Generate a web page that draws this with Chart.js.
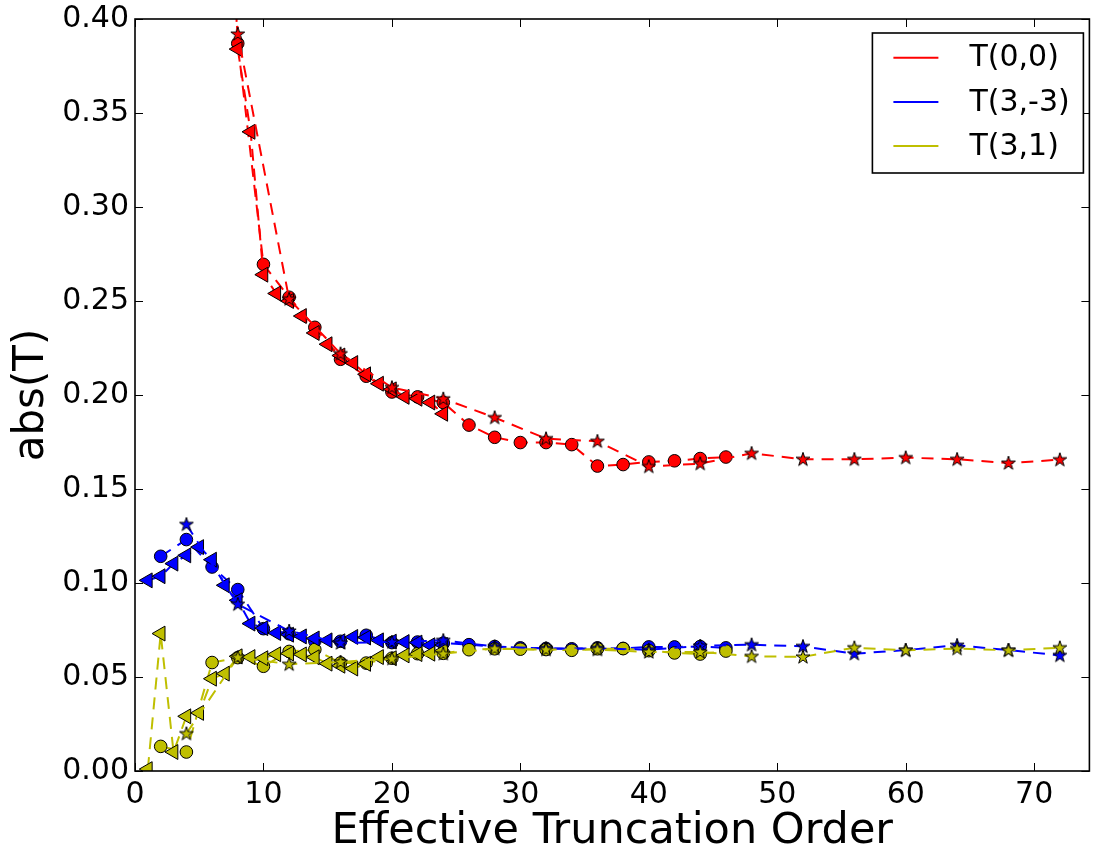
<!DOCTYPE html>
<html><head><meta charset="utf-8">
<script src="https://cdn.jsdelivr.net/npm/chart.js@4.4.1/dist/chart.umd.min.js"></script>
<style>html,body{margin:0;padding:0;background:#fff;overflow:hidden;width:1096px;height:856px;}canvas{display:block;}</style>
</head><body>
<canvas id="c" width="1099" height="856"></canvas>
<script>
// ---- data ----
const seriesLabels = ['T(0,0)', 'T(3,-3)', 'T(3,1)'];
const seriesColors = ['#ff0000', '#0000ff', '#bfbf00'];
const xTicks = [0, 10, 20, 30, 40, 50, 60, 70];
const yTicks = [0.00, 0.05, 0.10, 0.15, 0.20, 0.25, 0.30, 0.35, 0.40];

const xCircles = [2,4,6,8,10,12,14,16,18,20,22,24,26,28,30,32,34,36,38,40,42,44,46];
const xTriangles = [1,2,3,4,5,6,7,8,9,10,11,12,13,14,15,16,17,18,19,20,21,22,23,24];
const xStars = [4,8,12,16,20,24,28,32,36,40,44,48,52,56,60,64,68,72];

const redCircles = [1.8,1.2,0.75,0.387,0.2695,0.252,0.236,0.219,0.210,0.2016,0.199,0.196,0.184,0.1775,0.1747,0.1747,0.1736,0.1622,0.163,0.1644,0.165,0.1662,0.167];
const blueCircles = [0.1142,0.1231,0.1085,0.0965,0.0757,0.0730,0.0691,0.0690,0.0722,0.0683,0.0686,0.0680,0.0672,0.0662,0.0655,0.0652,0.0650,0.0655,0.0652,0.0660,0.0660,0.0662,0.0655];
const yellowCircles = [0.0131,0.0101,0.0577,0.0603,0.0557,0.0636,0.0646,0.0575,0.0574,0.0600,0.0624,0.0626,0.0645,0.0650,0.0648,0.0646,0.0642,0.0650,0.0651,0.0640,0.0628,0.0622,0.0638];

const redTriangles = [2.5,2.0,1.6,1.3,1.0,0.75,0.55,0.384,0.340,0.264,0.254,0.250,0.242,0.233,0.227,0.221,0.217,0.211,0.206,0.203,0.199,0.198,0.196,0.190];
const blueTriangles = [0.1014,0.1036,0.1103,0.1147,0.1191,0.1124,0.0988,0.0908,0.0784,0.0760,0.0734,0.0725,0.0716,0.0705,0.0695,0.0690,0.0713,0.0710,0.0695,0.0688,0.0686,0.0683,0.0669,0.0670];
const yellowTriangles = [0.001,0.0731,0.0101,0.0291,0.0309,0.0491,0.0518,0.0610,0.0606,0.0600,0.0621,0.0625,0.0620,0.0605,0.0571,0.0560,0.0545,0.0570,0.0606,0.0600,0.0615,0.0622,0.0624,0.0640];

const redStars = [1.3,0.392,0.251,0.222,0.204,0.198,0.188,0.1768,0.1754,0.162,0.1635,0.169,0.1658,0.1658,0.1667,0.1658,0.1638,0.1656];
const blueStars = [0.1312,0.0887,0.0745,0.0681,0.0686,0.0695,0.0662,0.0652,0.0652,0.0645,0.0665,0.0672,0.0663,0.0624,0.0643,0.0669,0.0643,0.0615];
const yellowStars = [0.0199,0.0605,0.0568,0.0580,0.0598,0.0624,0.0651,0.0646,0.0646,0.0633,0.0633,0.0610,0.0607,0.0656,0.0642,0.0651,0.0642,0.0656];

// ---- styling helpers ----
const FONT = '"DejaVu Sans", sans-serif';
function starImage(color) {
  const c = document.createElement('canvas');
  c.width = 18; c.height = 18;
  const g = c.getContext('2d');
  const R = 7.3, r = R * 0.382, cx = 9, cy = 9.3;
  g.beginPath();
  for (let i = 0; i < 10; i++) {
    const a = -Math.PI / 2 + i * Math.PI / 5;
    const rr = i % 2 === 0 ? R : r;
    g.lineTo(cx + rr * Math.cos(a), cy + rr * Math.sin(a));
  }
  g.closePath();
  g.fillStyle = color; g.fill();
  g.lineWidth = 1; g.strokeStyle = '#000'; g.stroke();
  return c;
}

function makeSet(xs, ys, ci, kind, drawIdx) {
  const color = seriesColors[ci];
  const ds = {
    label: seriesLabels[ci],
    data: xs.map((x, i) => ({x: x, y: ys[i]})),
    borderColor: color,
    backgroundColor: color,
    borderWidth: 2,
    borderDash: [12, 8],
    tension: 0,
    fill: false,
    pointBackgroundColor: color,
    pointBorderColor: '#000',
    pointBorderWidth: 1,
    order: 100 - drawIdx
  };
  if (kind === 'circle') { ds.pointStyle = 'circle'; ds.pointRadius = 6.3; }
  else if (kind === 'triangle') { ds.pointStyle = 'triangle'; ds.pointRadius = 8.6; ds.pointRotation = -90; }
  else { ds.pointStyle = starImage(color); ds.pointRadius = 7; }
  return ds;
}

const datasets = [
  makeSet(xCircles, redCircles, 0, 'circle', 0),
  makeSet(xCircles, blueCircles, 1, 'circle', 1),
  makeSet(xCircles, yellowCircles, 2, 'circle', 2),
  makeSet(xTriangles, redTriangles, 0, 'triangle', 3),
  makeSet(xTriangles, blueTriangles, 1, 'triangle', 4),
  makeSet(xTriangles, yellowTriangles, 2, 'triangle', 5),
  makeSet(xStars, redStars, 0, 'star', 6),
  makeSet(xStars, blueStars, 1, 'star', 7),
  makeSet(xStars, yellowStars, 2, 'star', 8)
];

const framePlugin = {
  id: 'frame',
  afterDatasetsDraw(chart) {
    const {ctx, chartArea: a, scales: {x, y}} = chart;
    ctx.save();
    ctx.strokeStyle = '#000';
    ctx.lineWidth = 1;
    const seg = (x1, y1, x2, y2) => { ctx.beginPath(); ctx.moveTo(x1, y1); ctx.lineTo(x2, y2); ctx.stroke(); };
    xTicks.forEach(v => {
      const p = Math.round(x.getPixelForValue(v)) + 0.5;
      seg(p, a.bottom, p, a.bottom - 8);
      seg(p, a.top, p, a.top + 8);
    });
    yTicks.forEach(v => {
      const p = Math.round(y.getPixelForValue(v)) + 0.5;
      seg(a.left, p, a.left + 8, p);
      seg(a.right, p, a.right - 8, p);
    });
    ctx.lineWidth = 1.6;
    ctx.strokeRect(a.left, a.top, a.right - a.left, a.bottom - a.top);
    ctx.restore();
  },
  afterDraw(chart) {
    const {ctx, chartArea: a} = chart;
    const bx = a.right - 217, by = a.top + 14, bw = 211, bh = 140;
    ctx.save();
    ctx.fillStyle = '#fff';
    ctx.fillRect(bx, by, bw, bh);
    ctx.lineWidth = 1.6;
    ctx.strokeStyle = '#000';
    ctx.strokeRect(bx, by, bw, bh);
    ctx.font = '30px ' + FONT;
    ctx.textBaseline = 'middle';
    ctx.textAlign = 'left';
    seriesLabels.forEach((lab, i) => {
      const ly = by + 24.7 + i * 44.2;
      ctx.strokeStyle = seriesColors[i];
      ctx.lineWidth = 2;
      ctx.beginPath(); ctx.moveTo(bx + 21, ly); ctx.lineTo(bx + 66, ly); ctx.stroke();
      ctx.fillStyle = '#000';
      ctx.fillText(lab, bx + 97, ly + 1);
    });
    ctx.restore();
  }
};

new Chart(document.getElementById('c'), {
  type: 'line',
  data: {datasets: datasets},
  options: {
    responsive: false,
    animation: false,
    events: [],
    layout: {padding: {top: 19, right: 0, left: 0, bottom: 0}},
    plugins: {legend: {display: false}, tooltip: {enabled: false}},
    scales: {
      x: {
        type: 'linear', min: 0, max: 74.3,
        afterBuildTicks: s => { s.ticks = xTicks.map(v => ({value: v})); },
        afterFit: s => { s.height = 85; s.paddingLeft = 0; s.paddingRight = 0; },
        grid: {display: false, drawTicks: false},
        border: {display: false},
        ticks: {color: '#000', font: {family: FONT, size: 30}, padding: 6, maxRotation: 0,
                callback: v => String(v)},
        title: {display: true, text: 'Effective Truncation Order', color: '#000',
                font: {family: FONT, size: 43}, padding: {top: 0, bottom: -2}}
      },
      y: {
        type: 'linear', min: 0, max: 0.4,
        afterBuildTicks: s => { s.ticks = yTicks.map(v => ({value: v})); },
        afterFit: s => { s.width = 135; s.paddingTop = 0; s.paddingBottom = 0; },
        grid: {display: false, drawTicks: false},
        border: {display: false},
        ticks: {color: '#000', font: {family: FONT, size: 30}, padding: 6,
                callback: v => Number(v).toFixed(2)},
        title: {display: true, text: 'abs(T)', color: '#000',
                font: {family: FONT, size: 42}, padding: {top: 7, bottom: 0}}
      }
    }
  },
  plugins: [framePlugin]
});
</script>
</body></html>
